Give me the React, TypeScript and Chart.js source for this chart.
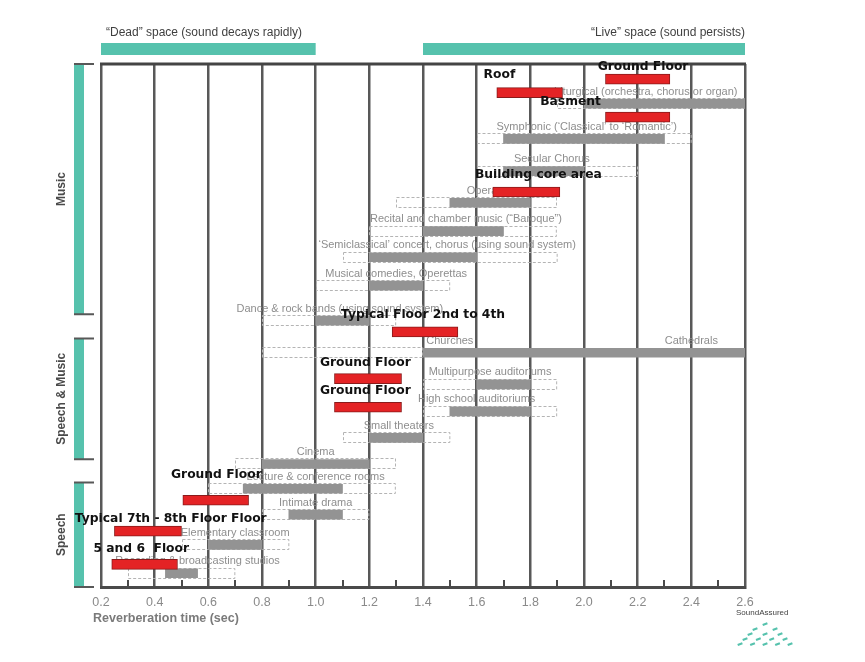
import { useEffect, useRef } from 'react';
import { Chart, registerables, type ChartConfiguration, type Plugin } from 'chart.js';

Chart.register(...registerables);

// room types, top to bottom
const activities = [
  'Liturgical (orchestra, chorus or organ)',
  'Symphonic (‘Classical’ to ‘Romantic’)',
  'Secular Chorus',
  'Opera',
  'Recital and chamber music (“Baroque”)',
  '‘Semiclassical’ concert, chorus (using sound system)',
  'Musical comedies, Operettas',
  'Dance & rock bands (using sound system)',
  'Churches',
  'Multipurpose auditoriums',
  'High school auditoriums',
  'Small theaters',
  'Cinema',
  'Lecture & conference rooms',
  'Intimate drama',
  'Elementary classroom',
  'Recording & broadcasting studios',
];
const activityRow = [1.44, 2.72, 3.89, 5.04, 6.07, 7.02, 8.05, 9.32, 10.49, 11.64, 12.62, 13.58, 14.53, 15.43, 16.37, 17.47, 18.5];
// optimum (solid grey) and acceptable (dashed) reverberation time, sec
const optimumRange: [number, number][] = [
  [2.0, 2.6], [1.7, 2.3], [1.7, 2.0], [1.5, 1.8], [1.4, 1.7], [1.2, 1.6], [1.2, 1.4], [1.0, 1.2], [1.4, 2.6],
  [1.6, 1.8], [1.5, 1.8], [1.2, 1.4], [0.8, 1.2], [0.73, 1.1], [0.9, 1.1], [0.6, 0.8], [0.44, 0.56],
];
const acceptableRange: [number, number][] = [
  [1.9, 2.6], [1.6, 2.4], [1.6, 2.2], [1.3, 1.9], [1.2, 1.9], [1.1, 1.9], [1.0, 1.5], [0.8, 1.3], [0.8, 1.4],
  [1.4, 1.9], [1.4, 1.9], [1.1, 1.5], [0.7, 1.3], [0.6, 1.3], [0.8, 1.2], [0.5, 0.9], [0.3, 0.7],
];
// where each name sits (centre, sec)
const activityLabelX = [2.23, 2.01, 1.88, 1.62, 1.56, 1.49, 1.3, 1.09, 1.5, 1.65, 1.6, 1.31, 1.0, 1.0, 1.0, 0.7, 0.56];
const cathedralLabel = 'Cathedrals';
const cathedralLabelX = 2.4;

// measured floors of the building
const floors = [
  'Ground Floor',
  'Roof',
  'Basment',
  'Building core area',
  'Typical Floor 2nd to 4th',
  'Ground Floor',
  'Ground Floor',
  'Ground Floor',
  'Typical 7th - 8th Floor Floor',
  '5 and 6  Floor',
];
const floorRow = [0.55, 1.04, 1.93, 4.65, 9.73, 11.43, 12.47, 15.85, 16.97, 18.18];
const floorRange: [number, number][] = [
  [2.08, 2.32], [1.675, 1.92], [2.08, 2.32], [1.66, 1.91], [1.285, 1.53],
  [1.07, 1.32], [1.07, 1.32], [0.505, 0.75], [0.25, 0.5], [0.24, 0.485],
];
const floorLabelX = [2.22, 1.685, 1.95, 1.83, 1.4, 1.185, 1.185, 0.63, 0.46, 0.35];
const floorLabelRow = [0.11, 0.4, 1.38, 4.03, 9.12, 10.86, 11.88, 14.93, 16.53, 17.62];

const groups = ['Music', 'Speech & Music', 'Speech'];
const groupFrom = [0, 9.97, 15.2];
const groupTo = [9.09, 14.36, 19];

const spaces = ['“Dead” space (sound decays rapidly)', '“Live” space (sound persists)'];
const spaceFrom = [0.2, 1.4];
const spaceTo = [1.0, 2.6];

const xTicks = [0.2, 0.4, 0.6, 0.8, 1.0, 1.2, 1.4, 1.6, 1.8, 2.0, 2.2, 2.4, 2.6];
const minorTicks = [0.3, 0.5, 0.7, 0.9, 1.1, 1.3, 1.5, 1.7, 1.9, 2.1, 2.3, 2.5];

const TEAL = '#56c2ad';
const LINE = '#585858';

const decorPlugin: Plugin<'bar'> = {
  id: 'decor',
  beforeDatasetsDraw(chart) {
    const { ctx } = chart;
    const meta = chart.getDatasetMeta(2);
    ctx.save();
    ctx.setLineDash([3, 2]);
    ctx.strokeStyle = '#b4b4b4';
    ctx.lineWidth = 1;
    meta.data.forEach((bar) => {
      const p = bar.getProps(['x', 'y', 'base', 'height'], true) as any;
      const left = Math.min(p.base, p.x);
      const w = Math.abs(p.x - p.base);
      ctx.strokeRect(Math.round(left) + 0.5, Math.round(p.y - p.height / 2) + 0.5, w - 1, p.height - 1);
    });
    ctx.restore();
  },
  afterDatasetDraw(chart, args) {
    if (args.index !== 1) return;
    const { ctx, scales } = chart;
    const x = scales.x;
    const y = scales.y;
    ctx.save();
    ctx.font = '11px "Liberation Sans"';
    ctx.fillStyle = '#8e8e8e';
    ctx.textAlign = 'center';
    ctx.textBaseline = 'middle';
    activities.forEach((name, i) => {
      ctx.fillText(name, x.getPixelForValue(activityLabelX[i]), y.getPixelForValue(activityRow[i]) - 12);
    });
    ctx.fillText(cathedralLabel, x.getPixelForValue(cathedralLabelX), y.getPixelForValue(activityRow[8]) - 12);
    ctx.restore();
  },
  afterDraw(chart) {
    const { ctx, chartArea, scales } = chart;
    const x = scales.x;
    const y = scales.y;
    ctx.save();

    // top frame line
    ctx.strokeStyle = '#444';
    ctx.lineWidth = 3;
    ctx.beginPath();
    ctx.moveTo(chartArea.left - 1, chartArea.top);
    ctx.lineTo(chartArea.right + 1, chartArea.top);
    ctx.stroke();

    // minor ticks on the time axis
    ctx.lineWidth = 2;
    ctx.strokeStyle = '#4a4a4a';
    minorTicks.forEach((v) => {
      const px = Math.round(x.getPixelForValue(v));
      ctx.beginPath();
      ctx.moveTo(px, chartArea.bottom - 7);
      ctx.lineTo(px, chartArea.bottom);
      ctx.stroke();
    });

    // dead / live bands
    ctx.font = '12px "Liberation Sans"';
    ctx.textBaseline = 'middle';
    spaces.forEach((name, i) => {
      const x0 = x.getPixelForValue(spaceFrom[i]);
      const x1 = x.getPixelForValue(spaceTo[i]);
      ctx.fillStyle = TEAL;
      ctx.fillRect(x0, 43, x1 - x0, 12);
      ctx.fillStyle = '#3f3f3f';
      if (i === 0) {
        ctx.textAlign = 'left';
        ctx.fillText(name, x0 + 5, 33);
      } else {
        ctx.textAlign = 'right';
        ctx.fillText(name, x1, 33);
      }
    });

    // group brackets on the left
    groups.forEach((name, i) => {
      const top = y.getPixelForValue(groupFrom[i]);
      const bottom = y.getPixelForValue(groupTo[i]);
      ctx.fillStyle = TEAL;
      ctx.fillRect(74, top, 10, bottom - top);
      ctx.strokeStyle = LINE;
      ctx.lineWidth = 2;
      ctx.beginPath();
      ctx.moveTo(74, top);
      ctx.lineTo(94, top);
      ctx.moveTo(74, bottom);
      ctx.lineTo(94, bottom);
      ctx.stroke();
      ctx.save();
      ctx.translate(62, (top + bottom) / 2);
      ctx.rotate(-Math.PI / 2);
      ctx.font = 'bold 12px "Liberation Sans"';
      ctx.fillStyle = '#4a4a4a';
      ctx.textAlign = 'center';
      ctx.textBaseline = 'middle';
      ctx.fillText(name, 0, 0);
      ctx.restore();
    });

    // labels of the measured floors, on top of everything
    ctx.font = 'bold 12.3px "DejaVu Sans"';
    ctx.fillStyle = '#111';
    ctx.textAlign = 'center';
    ctx.textBaseline = 'middle';
    floors.forEach((name, i) => {
      ctx.fillText(name, x.getPixelForValue(floorLabelX[i]), y.getPixelForValue(floorLabelRow[i]));
    });

    // axis title
    ctx.font = 'bold 12.5px "Liberation Sans"';
    ctx.fillStyle = '#7a7a7a';
    ctx.textAlign = 'left';
    ctx.fillText('Reverberation time (sec)', 93, 619);

    // SoundAssured mark
    ctx.font = '8px "Liberation Sans"';
    ctx.fillStyle = '#444';
    ctx.fillText('SoundAssured', 736, 613);
    ctx.fillStyle = TEAL;
    for (let r = 0; r < 5; r++) {
      const count = r + 1;
      const rowY = 624 + r * 5;
      const half = 5 + r * 5;
      for (let c = 0; c < count; c++) {
        const cx = 765 - half + (count === 1 ? half : (c * 2 * half) / (count - 1));
        ctx.save();
        ctx.translate(cx, rowY);
        ctx.rotate(-0.35);
        ctx.fillRect(-2.5, -1, 5, 2.2);
        ctx.restore();
      }
    }
    ctx.restore();
  },
};

function App() {
  const canvasRef = useRef<HTMLCanvasElement | null>(null);
  const chartRef = useRef<Chart<'bar'> | null>(null);

  useEffect(() => {
    if (!canvasRef.current) return;
    const config: ChartConfiguration<'bar'> = {
      type: 'bar',
      data: {
        datasets: [
          {
            label: 'Measured',
            data: floorRange.map((r, i) => ({ x: r, y: floorRow[i] })) as any,
            backgroundColor: '#e42325',
            borderColor: '#8a1b1b',
            borderWidth: 1,
            borderSkipped: false,
            barThickness: 10,
            grouped: false,
          },
          {
            label: 'Optimum',
            data: optimumRange.map((r, i) => ({ x: r, y: activityRow[i] })) as any,
            backgroundColor: '#939393',
            borderWidth: 0,
            barThickness: 9,
            grouped: false,
          },
          {
            label: 'Acceptable',
            data: acceptableRange.map((r, i) => ({ x: r, y: activityRow[i] })) as any,
            backgroundColor: 'rgba(0,0,0,0)',
            borderWidth: 0,
            barThickness: 11,
            grouped: false,
          },
        ],
      },
      options: {
        indexAxis: 'y',
        responsive: false,
        animation: false,
        layout: { padding: { left: 101, right: 120, top: 64, bottom: 44 } },
        scales: {
          x: {
            type: 'linear',
            position: 'bottom',
            min: 0.2,
            max: 2.6,
            afterBuildTicks: (scale) => {
              scale.ticks = xTicks.map((v) => ({ value: v }));
            },
            ticks: {
              callback: (value) => Number(value).toFixed(1),
              color: '#8a8a8a',
              font: { family: 'Liberation Sans', size: 12.5 },
              padding: 8,
              maxRotation: 0,
              autoSkip: false,
            },
            grid: { color: LINE, lineWidth: 2.5, drawTicks: false },
            border: { display: true, color: '#4a4a4a', width: 3 },
          },
          y: {
            type: 'linear',
            min: 0,
            max: 19,
            reverse: true,
            offset: false,
            display: false,
          },
        },
        plugins: {
          legend: { display: false },
          tooltip: { enabled: false },
        },
      },
      plugins: [decorPlugin],
    };

    if (!chartRef.current) chartRef.current = new Chart(canvasRef.current, config);

    return () => {
      chartRef.current?.destroy();
      chartRef.current = null;
    };
  }, []);

  return (
    <div style={{ position: 'fixed', left: 0, top: 0, width: 865, height: 662, background: '#fff' }}>
      <canvas ref={canvasRef} width={865} height={662} />
    </div>
  );
}

export default App;
